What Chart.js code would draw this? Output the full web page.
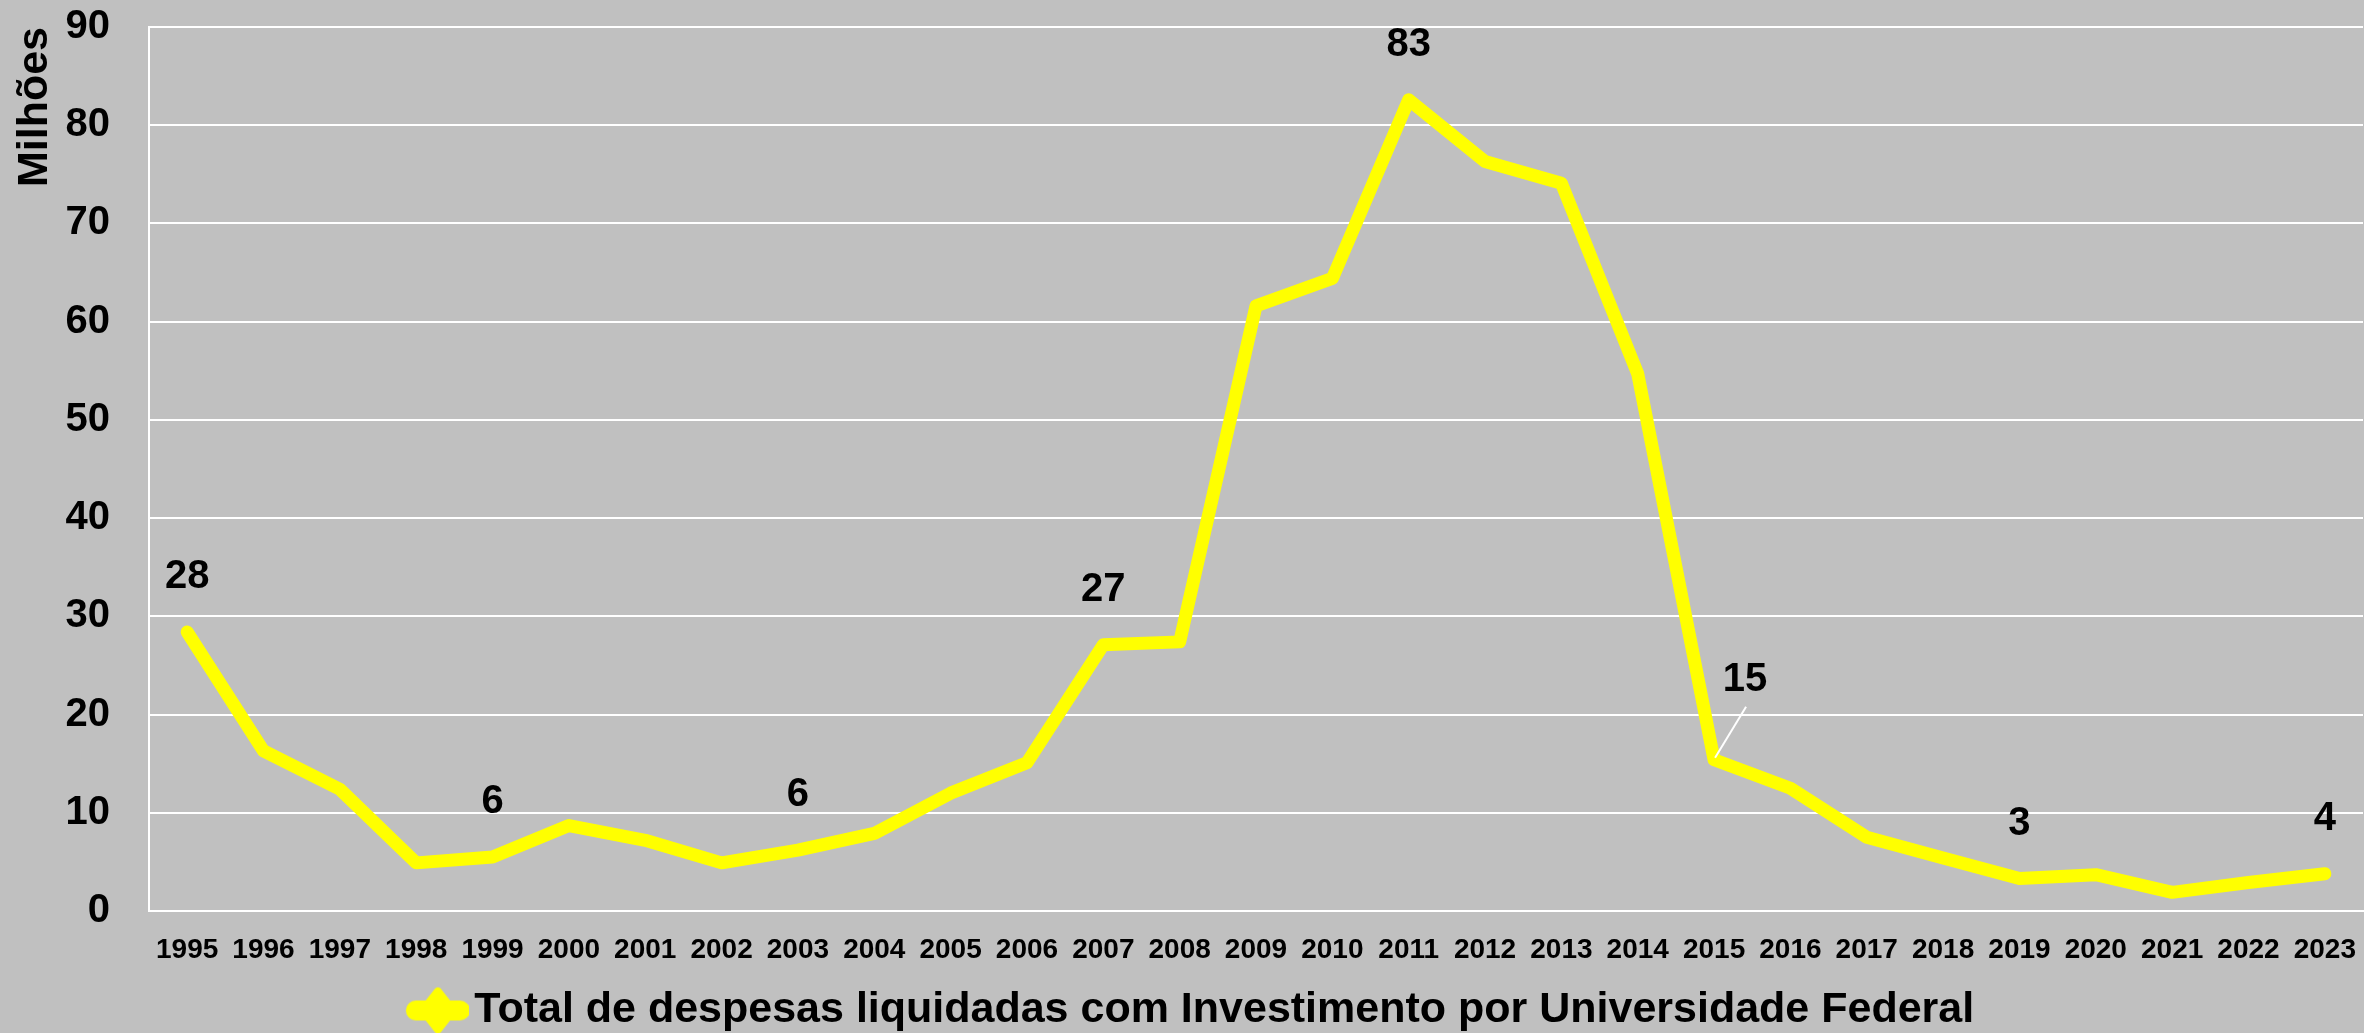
<!DOCTYPE html>
<html>
<head>
<meta charset="utf-8">
<title>Investimento por Universidade Federal</title>
<script src="https://cdn.jsdelivr.net/npm/chart.js@4/dist/chart.umd.min.js"></script>
<style>
  html, body { margin: 0; padding: 0; background: #c0c0c0; }
  #wrap { width: 2364px; height: 1033px; }
</style>
</head>
<body>
<div id="wrap"><canvas id="investimento" width="2364" height="1033"></canvas></div>
<script>
const years = [ '1995', '1996', '1997', '1998', '1999', '2000', '2001', '2002', '2003', '2004',
  '2005', '2006', '2007', '2008', '2009', '2010', '2011', '2012', '2013', '2014',
  '2015', '2016', '2017', '2018', '2019', '2020', '2021', '2022', '2023' ]
// milhões de reais
const investimento = [ 28.4, 16.3, 12.4, 4.9, 5.5, 8.7, 7.2, 4.9, 6.2, 7.9,
  12.0, 15.1, 27.1, 27.4, 61.6, 64.4, 82.6, 76.3, 74.1, 54.7,
  15.4, 12.5, 7.5, 5.4, 3.3, 3.7, 1.9, 2.9, 3.8 ]
const labelledYears = [ '1995', '1999', '2003', '2007', '2011', '2015', '2019', '2023' ]
const seriesName = 'Total de despesas liquidadas com Investimento por Universidade Federal'
const yMin = 0
const yMax = 90
const yStep = 10

const FONT = '"Liberation Sans", Arial, Helvetica, sans-serif'
const YELLOW = '#ffff00'

Chart.defaults.font.family = FONT
Chart.defaults.font.weight = 'bold'
Chart.defaults.color = '#000'

// excel style legend key: thick line with a diamond, left part left empty to shift the legend
function legendKey() {
  const c = document.createElement('canvas')
  c.width = 96
  c.height = 48
  const g = c.getContext('2d')
  g.strokeStyle = YELLOW
  g.fillStyle = YELLOW
  g.lineCap = 'round'
  g.lineWidth = 20
  g.beginPath()
  g.moveTo(43, 24)
  g.lineTo(87, 24)
  g.stroke()
  g.lineJoin = 'round'
  g.lineWidth = 8
  g.beginPath()
  g.moveTo(65, 5)
  g.lineTo(80, 24)
  g.lineTo(65, 43)
  g.lineTo(50, 24)
  g.closePath()
  g.fill()
  g.stroke()
  return c
}

const background = {
  id: 'background',
  beforeDraw(chart) {
    const { ctx, width, height } = chart
    ctx.save()
    ctx.fillStyle = '#c0c0c0'
    ctx.fillRect(0, 0, width, height)
    ctx.restore()
  }
}

const pointLabels = {
  id: 'pointLabels',
  afterDatasetsDraw(chart) {
    const { ctx } = chart
    const meta = chart.getDatasetMeta(0)
    ctx.save()
    ctx.font = 'bold 40px ' + FONT
    ctx.fillStyle = '#000'
    ctx.textAlign = 'center'
    ctx.textBaseline = 'middle'
    labelledYears.forEach(year => {
      const i = years.indexOf(year)
      const pt = meta.data[i]
      const text = String(Math.round(investimento[i]))
      if (year === '2015') {
        // label moved aside, with a leader line
        ctx.strokeStyle = '#fff'
        ctx.lineWidth = 2
        ctx.beginPath()
        ctx.moveTo(pt.x + 1, pt.y - 2)
        ctx.lineTo(pt.x + 32, pt.y - 53)
        ctx.stroke()
        ctx.fillText(text, pt.x + 31, pt.y - 80)
      } else {
        ctx.fillText(text, pt.x, pt.y - 55)
      }
    })
    ctx.restore()
  }
}

const ctx = document.getElementById('investimento')

new Chart(ctx, {
  type: 'line',
  data: {
    labels: years,
    datasets: [ {
      label: seriesName,
      data: investimento,
      borderColor: YELLOW,
      backgroundColor: YELLOW,
      borderWidth: 13,
      borderJoinStyle: 'round',
      borderCapStyle: 'round',
      pointRadius: 0,
      tension: 0,
    } ]
  },
  options: {
    responsive: false,
    animation: false,
    devicePixelRatio: 1,
    layout: { padding: { top: 27, right: 1, bottom: -9, left: 0 } },
    plugins: {
      tooltip: { enabled: false },
      legend: {
        position: 'bottom',
        labels: {
          usePointStyle: true,
          pointStyle: legendKey(),
          pointStyleWidth: 64,
          padding: 4,
          color: '#000',
          font: { size: 43, weight: 'bold' },
        },
      },
    },
    scales: {
      x: {
        offset: true,
        grid: { display: false },
        border: { display: true, color: '#fff', width: 2 },
        ticks: {
          autoSkip: false,
          maxRotation: 0,
          padding: 14,
          font: { size: 28, weight: 'bold' },
        },
        afterFit: scale => {
          scale.height = 74
          scale.paddingLeft = 0
          scale.paddingRight = 0
        },
      },
      y: {
        min: yMin,
        max: yMax,
        grid: { color: '#fff', lineWidth: 2, drawTicks: false },
        border: { display: true, color: '#fff', width: 2 },
        ticks: {
          stepSize: yStep,
          padding: 39,
          font: { size: 40, weight: 'bold' },
        },
        title: {
          display: true,
          text: 'Milhões',
          align: 'end',
          padding: { top: 9, bottom: 0 },
          font: { size: 43, weight: 'bold' },
        },
        afterFit: scale => {
          scale.width = 149
          scale.paddingTop = 0
          scale.paddingBottom = 0
        },
      },
    },
  },
  plugins: [ background, pointLabels ],
})
</script>
</body>
</html>
